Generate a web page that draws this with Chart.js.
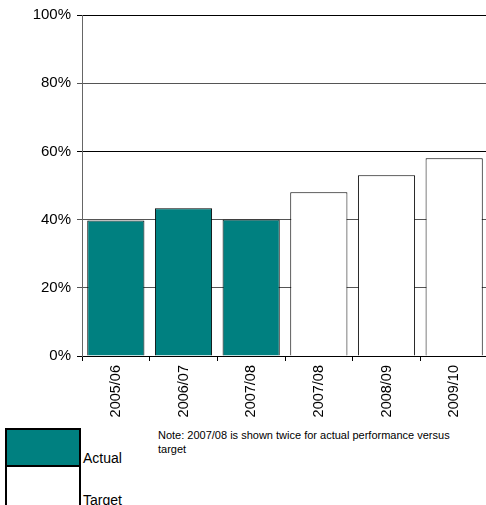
<!DOCTYPE html>
<html>
<head>
<meta charset="utf-8">
<script src="https://cdn.jsdelivr.net/npm/chart.js@4/dist/chart.umd.min.js"></script>
<style>
  html, body { margin: 0; padding: 0; background: #fff; overflow: hidden; }
  body { width: 486px; height: 505px; position: relative; font-family: "Liberation Sans", Arial, sans-serif; }
  #wrap { position: absolute; left: 0; top: 0; width: 490px; height: 425px; }
  #legend { position: absolute; left: 5px; top: 428px; }
  .item { position: relative; height: 39px; }
  .swatch { position: absolute; left: 0; top: 0; width: 72px; height: 37px; border: 2px solid #000; }
  .item + .item .swatch { top: -2px; height: 41px; }
  .lbl { position: absolute; left: 78px; bottom: 1px; font-size: 14px; color: #000; white-space: nowrap; }
  .item + .item .lbl { bottom: -2px; }
  #note { position: absolute; left: 158px; top: 429px; width: 312px; font-size: 11px; line-height: 13.5px; color: #000; }
</style>
</head>
<body>
<div id="wrap"><canvas id="c"></canvas></div>
<div id="legend"></div>
<div id="note">Note: 2007/08 is shown twice for actual performance versus target</div>
<script>
// Financial years along the x axis (2007/08 appears once as actual, once as target)
const categories = ['2005/06', '2006/07', '2007/08', '2007/08', '2008/09', '2009/10'];
// Performance, percent
const actualValues = [39.7, 43.3, 40, null, null, null];
const targetValues = [null, null, null, 48, 53, 58];
// Y axis ticks, percent
const yTicks = [0, 20, 40, 60, 80, 100];

const seriesNames = ['Actual', 'Target'];
const seriesColors = ['#008080', '#ffffff'];

const FONT = '"Liberation Sans", Arial, sans-serif';

const chart = new Chart(document.getElementById('c'), {
  type: 'bar',
  data: {
    labels: categories,
    datasets: [
      { label: seriesNames[0], data: actualValues, backgroundColor: seriesColors[0],
        borderColor: '#000', borderWidth: 1 },
      { label: seriesNames[1], data: targetValues, backgroundColor: seriesColors[1],
        borderColor: '#000', borderWidth: 1 }
    ]
  },
  options: {
    responsive: true,
    maintainAspectRatio: false,
    animation: false,
    devicePixelRatio: 1,
    layout: { padding: { top: 13, right: 2, left: 0, bottom: 0 } },
    datasets: { bar: { categoryPercentage: 1, barPercentage: 0.845 } },
    plugins: { legend: { display: false }, tooltip: { enabled: false } },
    scales: {
      x: {
        stacked: true,
        afterFit: s => { s.height = 69; },
        grid: { drawOnChartArea: false, drawTicks: true, tickLength: 5, color: '#000', offset: true },
        border: { color: '#000' },
        ticks: {
          autoSkip: false, minRotation: 90, maxRotation: 90, padding: 4,
          color: '#000', font: { family: FONT, size: 14.5 }
        }
      },
      y: {
        min: yTicks[0],
        max: yTicks[yTicks.length - 1],
        afterFit: s => { s.width = 82; },
        afterBuildTicks: s => { s.ticks = yTicks.map(v => ({ value: v })); },
        grid: {
          tickLength: 5,
          color: ctx => (ctx.tick && (ctx.tick.value === 100 || ctx.tick.value === 60 || ctx.tick.value === 0)) ? '#000' : '#555'
        },
        border: { color: '#666' },
        ticks: {
          padding: 6, color: '#000', font: { family: FONT, size: 15 },
          callback: v => v + '%'
        }
      }
    }
  }
});

// Legend beneath the chart, built from the dataset styles
const legend = document.getElementById('legend');
chart.data.datasets.forEach(ds => {
  const item = document.createElement('div');
  item.className = 'item';
  const sw = document.createElement('div');
  sw.className = 'swatch';
  sw.style.background = ds.backgroundColor;
  const lbl = document.createElement('div');
  lbl.className = 'lbl';
  lbl.textContent = ds.label;
  item.appendChild(sw);
  item.appendChild(lbl);
  legend.appendChild(item);
});
</script>
</body>
</html>
